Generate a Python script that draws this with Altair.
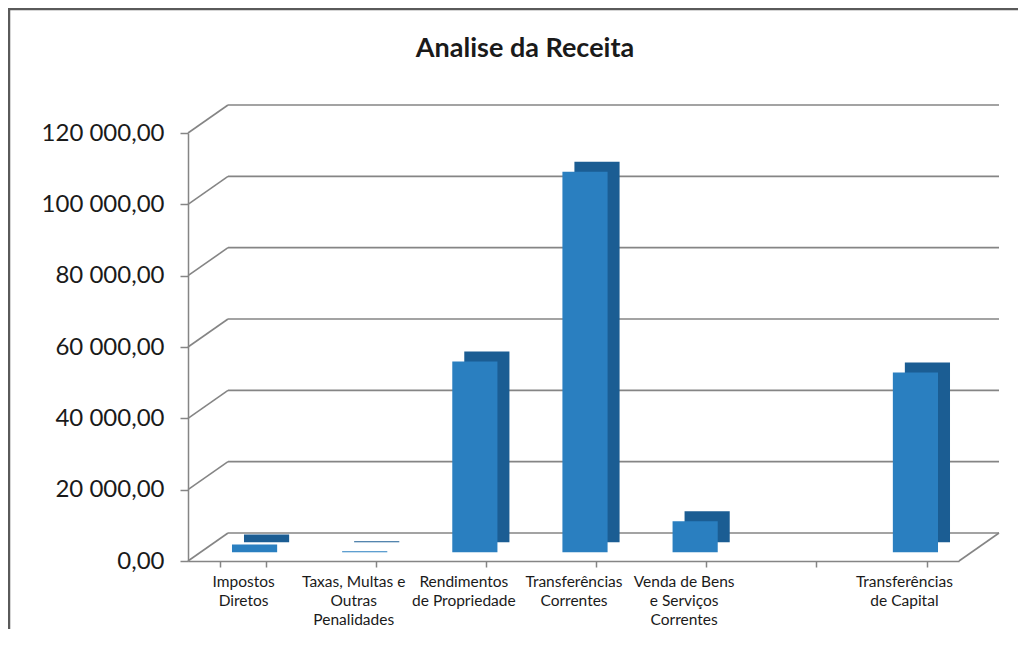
import altair as alt
import pandas as pd

# ---- data ----
categories = [
    "Impostos|Diretos",
    "Taxas, Multas e|Outras|Penalidades",
    "Rendimentos|de Propriedade",
    "Transferências|Correntes",
    "Venda de Bens|e Serviços|Correntes",
    " ",
    "Transferências|de Capital",
]
values = [2200, 300, 53500, 106700, 8700, 0, 50400]
y_ticks = [0, 20000, 40000, 60000, 80000, 100000, 120000]
title_text = "Analise da Receita"

df = pd.DataFrame({"cat": categories, "val": values})
grid_df = pd.DataFrame({"v": y_ticks})
floor_df = pd.DataFrame({"v": [0]})
one_df = pd.DataFrame({"a": [0]})

W, H = 771, 428
DEPTH_X, DEPTH_Y = 40, 28
FONT = "Lato"
GRID = "#858585"
FRAME = "#5a5a5a"

xscale = alt.Scale(domain=categories, paddingInner=0.59, paddingOuter=0.295)
yscale = alt.Scale(domain=[0, 120000])

yaxis = alt.Axis(
    values=y_ticks,
    labelExpr="replace(replace(format(datum.value, ',.2f'), ',', ' '), '.', ',')",
    grid=False,
    tickSize=8,
    labelPadding=16,
    labelFontSize=24,
    labelFont=FONT,
    labelColor="#1a1a1a",
    domainColor=GRID,
    tickColor=GRID,
    domainWidth=1.5,
    tickWidth=1.5,
    title=None,
)
xaxis = alt.Axis(
    labelExpr="split(datum.label, '|')",
    labelAngle=0,
    tickBand="extent",
    tickSize=6,
    labelPadding=7,
    labelFontSize=15.5,
    labelLineHeight=19,
    labelFont=FONT,
    labelColor="#1a1a1a",
    domainColor=GRID,
    tickColor=GRID,
    domainWidth=1.5,
    tickWidth=1.5,
    title=None,
)

frame_left = alt.Chart(one_df).mark_rule(color=FRAME, strokeWidth=2.5).encode(
    x=alt.value(-179), y=alt.value(-124), y2=alt.value(500)
)
frame_top = alt.Chart(one_df).mark_rule(color=FRAME, strokeWidth=2.5).encode(
    x=alt.value(-180), x2=alt.value(900), y=alt.value(-124)
)
# hides the stray right-hand edge so only the left and top frame lines show
edge_mask = alt.Chart(one_df).mark_rule(color="white", strokeWidth=6).encode(
    x=alt.value(829), y=alt.value(-121), y2=alt.value(520)
)

back_grid = alt.Chart(grid_df).mark_rule(
    color=GRID, strokeWidth=1.6, yOffset=-DEPTH_Y
).encode(
    x=alt.value(DEPTH_X), x2=alt.value(W + DEPTH_X),
    y=alt.Y("v:Q", scale=yscale, axis=yaxis),
)

diag = alt.Chart(grid_df).mark_rule(
    color=GRID, strokeWidth=1.6, y2Offset=-DEPTH_Y
).encode(
    x=alt.value(0), x2=alt.value(DEPTH_X),
    y=alt.Y("v:Q", scale=yscale), y2=alt.Y2("v"),
)

floor_right = alt.Chart(floor_df).mark_rule(
    color=GRID, strokeWidth=1.6, y2Offset=-DEPTH_Y
).encode(
    x=alt.value(W), x2=alt.value(W + DEPTH_X),
    y=alt.Y("v:Q", scale=yscale), y2=alt.Y2("v"),
)

bar_dx, bar_dy = 11.5, -8.7
side = alt.Chart(df).mark_bar(
    color="#1b5d93", xOffset=bar_dx + 12, yOffset=bar_dy - 10, y2Offset=bar_dy - 10
).encode(
    x=alt.X("cat:N", scale=xscale, sort=categories, axis=xaxis),
    y=alt.Y("val:Q", scale=yscale),
)
front = alt.Chart(df).mark_bar(
    color="#2a7fc0", xOffset=bar_dx, yOffset=bar_dy, y2Offset=bar_dy
).encode(
    x=alt.X("cat:N", scale=xscale, sort=categories),
    y=alt.Y("val:Q", scale=yscale),
)

title = alt.Chart(one_df).mark_text(
    text=title_text, font=FONT, fontSize=27, fontWeight="bold",
    color="#1a1a1a", align="center", baseline="alphabetic",
).encode(x=alt.value(337), y=alt.value(-76))

chart = alt.layer(
    frame_left, frame_top, back_grid, diag, floor_right, side, front, title, edge_mask
).properties(
    width=W, height=H,
    background="white",
    autosize=alt.AutoSizeParams(type="none"),
    padding={"left": 180, "top": 125, "right": 59, "bottom": 68},
).configure_view(strokeWidth=0, stroke="transparent")

chart.save("out.html", embed_options={"renderer": "svg", "actions": False})
